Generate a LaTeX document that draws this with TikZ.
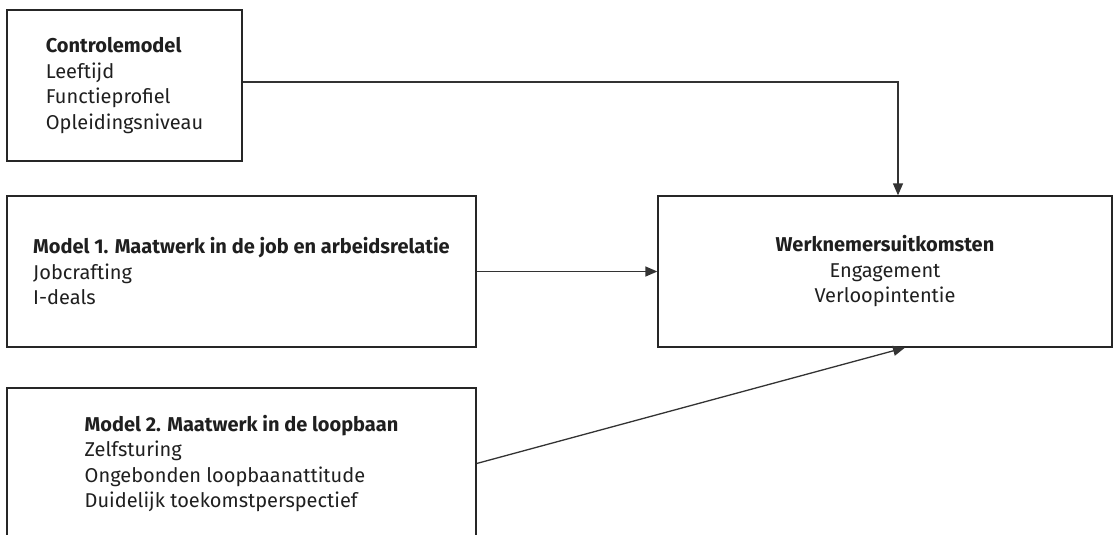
\documentclass[tikz,border=0pt]{standalone}
\usepackage{fontspec}
\setmainfont{Fira Sans}
\usepackage{tikz}
\usetikzlibrary{positioning, arrows.meta}

\begin{document}
\begin{tikzpicture}[x=1pt,y=-1pt,>={Triangle[length=12pt,width=10pt]},
    blok/.style={draw=black!85,line width=1.3pt,minimum height=151pt,align=left,
                 font=\fontsize{20}{25.5}\selectfont,text=black!88,inner sep=0pt},
    pijl/.style={->,draw=black!80,line width=1.3pt}]
    \useasboundingbox (0,0) rectangle (1116,535);

    %%% BLOKKEN %%%
    % Predictoren
    \node[blok,minimum width=235pt] (ctrl) at (124.5,85.5)
        {\textbf{Controlemodel}\\Leeftijd\\Functieprofiel\\Opleidingsniveau};
    \node[blok,minimum width=469pt] (mod1) at (241.5,271.5)
        {\textbf{Model 1. Maatwerk in de job en arbeidsrelatie}\\Jobcrafting\\I-deals};
    \node[blok,minimum width=469pt] (mod2) at (241.5,463.5)
        {\textbf{Model 2. Maatwerk in de loopbaan}\\Zelfsturing\\Ongebonden loopbaanattitude\\Duidelijk toekomstperspectief};

    % Uitkomsten
    \node[blok,minimum width=454pt,align=center] (uitk) at (885,271.5)
        {\textbf{Werknemersuitkomsten}\\Engagement\\Verloopintentie};

    %%% PIJLEN %%%
    \draw[pijl] ([yshift=3.5pt]ctrl.east) -| ([xshift=13pt]uitk.north);
    \draw[pijl] (mod1.east) -- (uitk.west);
    \draw[pijl] (mod2.east) -- ([xshift=20pt]uitk.south);
\end{tikzpicture}
\end{document}
